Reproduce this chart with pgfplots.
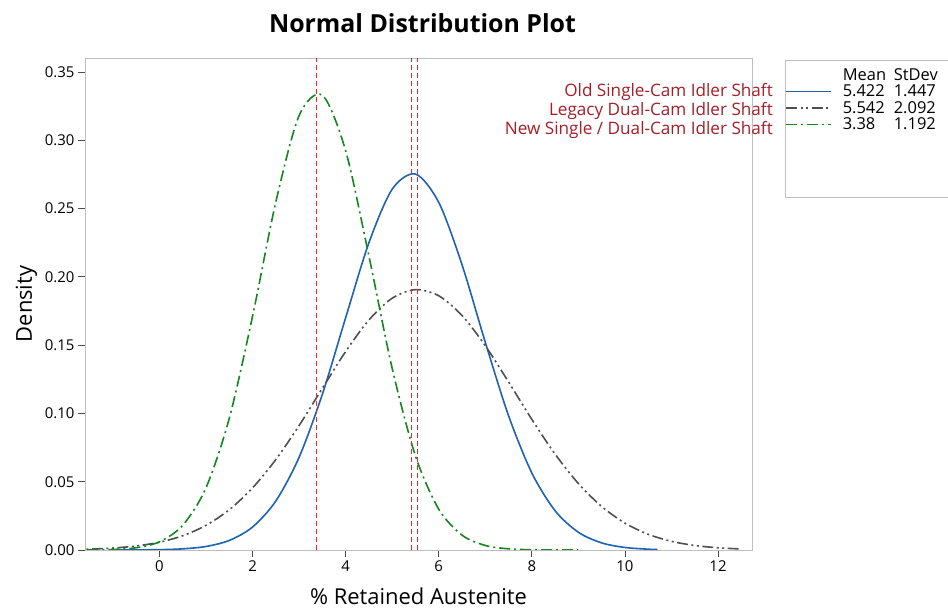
\documentclass[border=0pt]{standalone}
\usepackage{fontspec}
\setmainfont{Open Sans}
\usepackage{pgfplots}
\pgfplotsset{compat=1.18}

\definecolor{mtblue}{RGB}{30,98,178}
\definecolor{mtgray}{RGB}{80,80,80}
\definecolor{mtgreen}{RGB}{20,135,30}
\definecolor{refred}{RGB}{235,40,40}
\definecolor{labred}{RGB}{165,30,40}
\definecolor{framegray}{RGB}{190,190,190}

\begin{document}
\begin{tikzpicture}
\useasboundingbox (0,0) rectangle (948bp,609bp);
\begin{axis}[
    at={(85bp,59bp)}, anchor=south west,
    scale only axis,
    width=667bp, height=492bp,
    xmin=-1.6, xmax=12.73,
    ymin=0, ymax=0.3603,
    clip mode=individual,
    xtick={0,2,4,6,8,10,12},
    ytick={0,0.05,0.10,0.15,0.20,0.25,0.30,0.35},
    yticklabel style={/pgf/number format/.cd, fixed, fixed zerofill, precision=2},
    /pgf/number format/assume math mode=true,
    tick pos=left,
    tick align=outside,
    major tick length=7bp,
    axis line style={framegray, line width=0.9bp},
    every tick/.style={black!70, line width=0.8bp},
    ticklabel style={font=\fontsize{15}{18}\selectfont},
    title={Normal Distribution Plot},
    title style={font=\fontsize{25}{30}\selectfont\bfseries, at={(rel axis cs:0.5,1)}, anchor=base, yshift=20bp, xshift=4bp},
    xlabel={\% Retained Austenite},
    xlabel style={font=\fontsize{22}{26}\selectfont, at={(rel axis cs:0.5,0)}, anchor=base, yshift=-54bp},
    ylabel={Density},
    ylabel style={font=\fontsize{22}{26}\selectfont, at={(rel axis cs:0,0.5)}, anchor=base, yshift=53bp},
    legend style={draw=none, fill=none, at={(rel axis cs:1.048,0.985)}, anchor=north west,
        font=\fontsize{16.5}{20}\selectfont, row sep=-1bp, inner sep=1bp,
        /tikz/every odd column/.append style={column sep=9bp}},
    legend cell align=left,
    legend image code/.code={\draw[#1] (0bp,0bp) -- (45bp,0bp);},
]
\addlegendimage{empty legend}
\addlegendentry{\makebox[51bp][l]{Mean}StDev}

% Old Single-Cam Idler Shaft: mean 5.422, sd 1.447
\addplot[mtblue, line width=1.6bp, smooth] coordinates {
(-1.0,0.0000146) (-0.5,0.0000635) (0,0.000246) (0.5,0.000847) (1.0,0.002586)
(1.5,0.007002) (2.0,0.016827) (2.5,0.035888) (3.0,0.067933) (3.5,0.11412)
(4.0,0.17011) (4.5,0.22505) (5.0,0.26423) (5.5,0.27530) (6.0,0.25456)
(6.5,0.20889) (7.0,0.15212) (7.5,0.09832) (8.0,0.05638) (8.5,0.02870)
(9.0,0.012963) (9.5,0.005198) (10.0,0.001849) (10.5,0.000583) (10.7,0.00032)
};
\addlegendentry{\makebox[51bp][l]{5.422}1.447}

% Legacy Dual-Cam Idler Shaft: mean 5.542, sd 2.092
\addplot[mtgray, line width=1.6bp, smooth, dash pattern=on 11bp off 3.5bp on 2bp off 3.5bp on 2bp off 3.5bp] coordinates {
(-2.0,0.000287) (-1.5,0.000660) (-1.0,0.001435) (-0.5,0.002945) (0,0.005707)
(0.5,0.010442) (1.0,0.018062) (1.5,0.029492) (2.0,0.045486) (2.5,0.066253)
(3.0,0.091146) (3.5,0.11843) (4.0,0.14534) (4.5,0.16845) (5.0,0.18441)
(5.5,0.19066) (6.0,0.18618) (6.5,0.17172) (7.0,0.14958) (7.5,0.12306)
(8.0,0.09563) (8.5,0.07018) (9.0,0.04865) (9.5,0.03184) (10.0,0.01969)
(10.5,0.011500) (11.0,0.006345) (11.5,0.003305) (12.0,0.001626) (12.5,0.000755)
};
\addlegendentry{\makebox[51bp][l]{5.542}2.092}

% New Single / Dual-Cam Idler Shaft: mean 3.38, sd 1.192
\addplot[mtgreen, line width=1.6bp, smooth, dash pattern=on 11bp off 4bp on 2bp off 4bp] coordinates {
(-2.0,0.0000126) (-1.5,0.0000766) (-1.0,0.000392) (-0.5,0.001674) (0,0.006009)
(0.5,0.018073) (1.0,0.045596) (1.5,0.096485) (2.0,0.17123) (2.5,0.25485)
(3.0,0.31810) (3.5,0.33299) (4.0,0.29234) (4.5,0.21524) (5.0,0.13291)
(5.5,0.06882) (6.0,0.02989) (6.5,0.010887) (7.0,0.003325) (7.5,0.000852)
(8.0,0.000183) (8.5,0.000033) (9.0,0.000005)
};
\addlegendentry{\makebox[51bp][l]{3.38}1.192}

% reference lines at the means
\addplot[refred, line width=1.25bp, dash pattern=on 5bp off 3bp, forget plot] coordinates {(3.38,0) (3.38,0.3603)};
\addplot[refred, line width=1.25bp, dash pattern=on 5bp off 3bp, forget plot] coordinates {(5.422,0) (5.422,0.3603)};
\addplot[refred, line width=1.25bp, dash pattern=on 5bp off 3bp, forget plot] coordinates {(5.542,0) (5.542,0.3603)};

\begin{scope}[every node/.style={anchor=base east, text=labred, font=\fontsize{17.2}{20}\selectfont, inner sep=0pt}]
\node at (rel axis cs:1.0315,0.9227) {Old Single-Cam Idler Shaft};
\node at (rel axis cs:1.0315,0.8841) {Legacy Dual-Cam Idler Shaft};
\node at (rel axis cs:1.0315,0.8455) {New Single / Dual-Cam Idler Shaft};
\end{scope}
\draw[framegray, line width=0.9bp] (rel axis cs:1.3,0.996) -- (rel axis cs:1.0495,0.996) -- (rel axis cs:1.0495,0.7175) -- (rel axis cs:1.3,0.7175);
\end{axis}
\end{tikzpicture}
\end{document}
